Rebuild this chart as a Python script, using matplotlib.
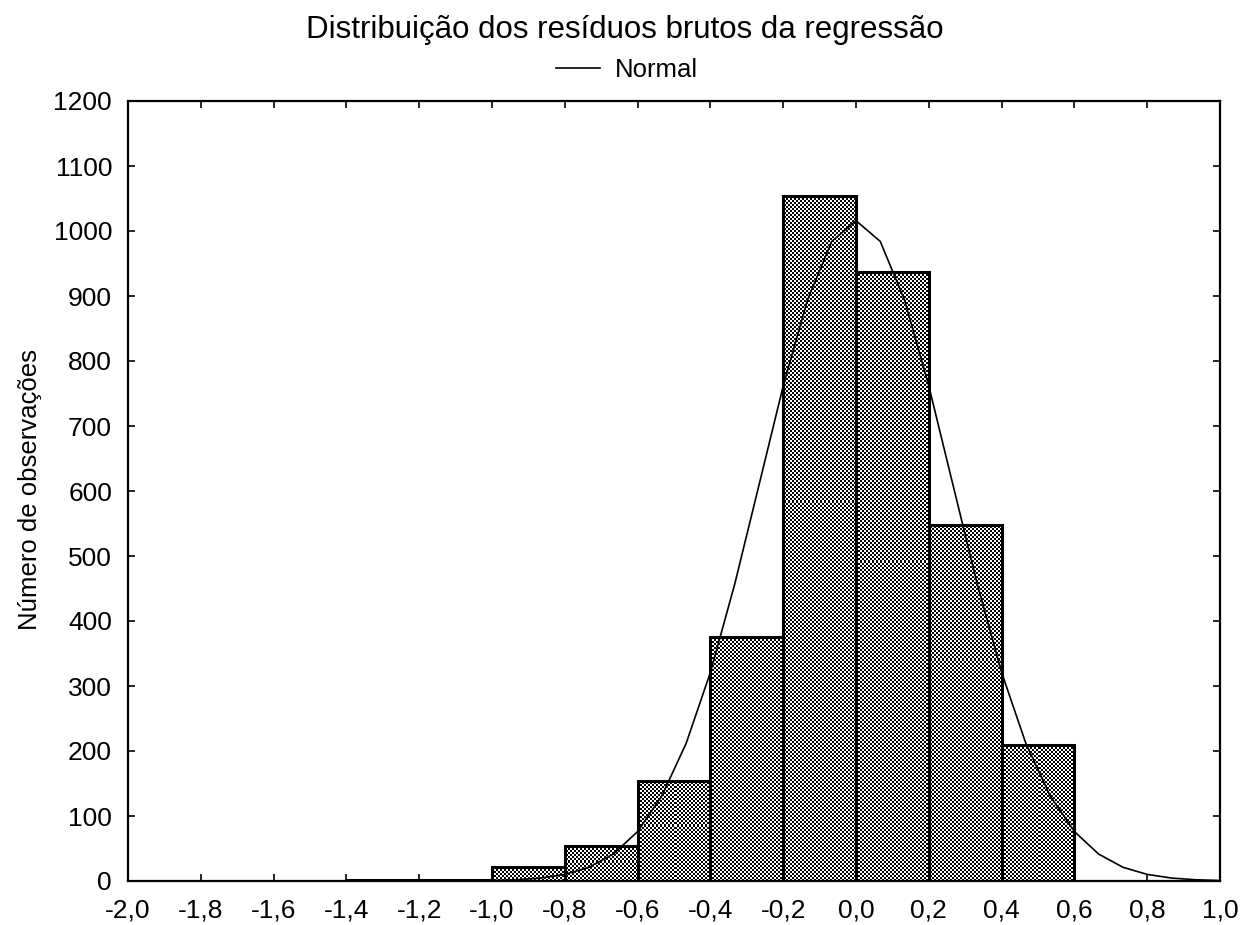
import numpy as np
import matplotlib
matplotlib.use("Agg")
import matplotlib.pyplot as plt
from matplotlib.lines import Line2D
from matplotlib.ticker import FuncFormatter

plt.rcParams['font.family'] = ['Liberation Sans', 'DejaVu Sans']

# Histogram of raw regression residuals (bin edges and counts)
bin_left = [-1.4, -1.2, -1.0, -0.8, -0.6, -0.4, -0.2, 0.0, 0.2, 0.4]
bin_width = 0.2
counts = [1, 2, 21, 54, 154, 375, 1054, 937, 548, 209]

# Fitted normal curve parameters
mu = 0.0
sigma = 0.2635
n_obs = sum(counts)

x_ticks = np.round(np.arange(-2.0, 1.0001, 0.2), 1)
y_ticks = np.arange(0, 1201, 100)

fig = plt.figure(figsize=(12.43, 9.25), dpi=100)
W, H = 1243, 925
ax_l, ax_r, ax_t, ax_b = 128, 1220, 101, 881
ax = fig.add_axes([ax_l / W, 1 - ax_b / H, (ax_r - ax_l) / W, (ax_b - ax_t) / H])

xlim = (-2.0, 1.0)
ylim = (0, 1200)

# Checkerboard texture used to fill the bars
pw, ph = ax_r - ax_l, ax_b - ax_t
rr, cc = np.indices((ph, pw))
checker = ((rr // 2 + cc // 2) % 2).astype(float)

bars = ax.bar(bin_left, counts, width=bin_width, align='edge',
              facecolor='none', edgecolor='black', linewidth=2.2, zorder=3)
for b in bars:
    im = ax.imshow(checker, cmap='gray', vmin=0, vmax=1,
                   extent=(xlim[0], xlim[1], ylim[0], ylim[1]),
                   aspect='auto', interpolation='nearest', zorder=2)
    im.set_clip_path(b)

# Normal curve scaled to counts per bin
xc = np.linspace(-2.0, 1.0, 46)
yc = n_obs * bin_width / (sigma * np.sqrt(2 * np.pi)) * np.exp(-0.5 * ((xc - mu) / sigma) ** 2)
ax.plot(xc, yc, color='black', linewidth=1.2, zorder=4)

ax.set_xlim(*xlim)
ax.set_ylim(*ylim)
ax.set_xticks(x_ticks)
ax.set_yticks(y_ticks)
ax.xaxis.set_major_formatter(FuncFormatter(lambda v, p: f"{v:.1f}".replace('.', ',').replace('-0,0', '0,0')))
ax.tick_params(direction='in', length=5, width=1.2, top=True, right=True,
               labelsize=19, colors='black')
ax.tick_params(axis='x', pad=12.5)
ax.tick_params(axis='y', pad=11.5)
for s in ax.spines.values():
    s.set_linewidth(1.6)

fig.text(30 / W, 1 - 489 / H, 'Número de observações', rotation=90,
         ha='center', va='center', fontsize=18.5)

fig.text(625 / W, 1 - 30 / H, 'Distribuição dos resíduos brutos da regressão',
         ha='center', va='center', fontsize=22.5)
handle = Line2D([], [], color='black', linewidth=1.2)
fig.legend([handle], ['Normal'], loc='center', bbox_to_anchor=(627 / W, 1 - 70 / H),
           frameon=False, fontsize=18.5, handlelength=1.7, handletextpad=0.6)

fig.savefig('out.png', dpi=100)
